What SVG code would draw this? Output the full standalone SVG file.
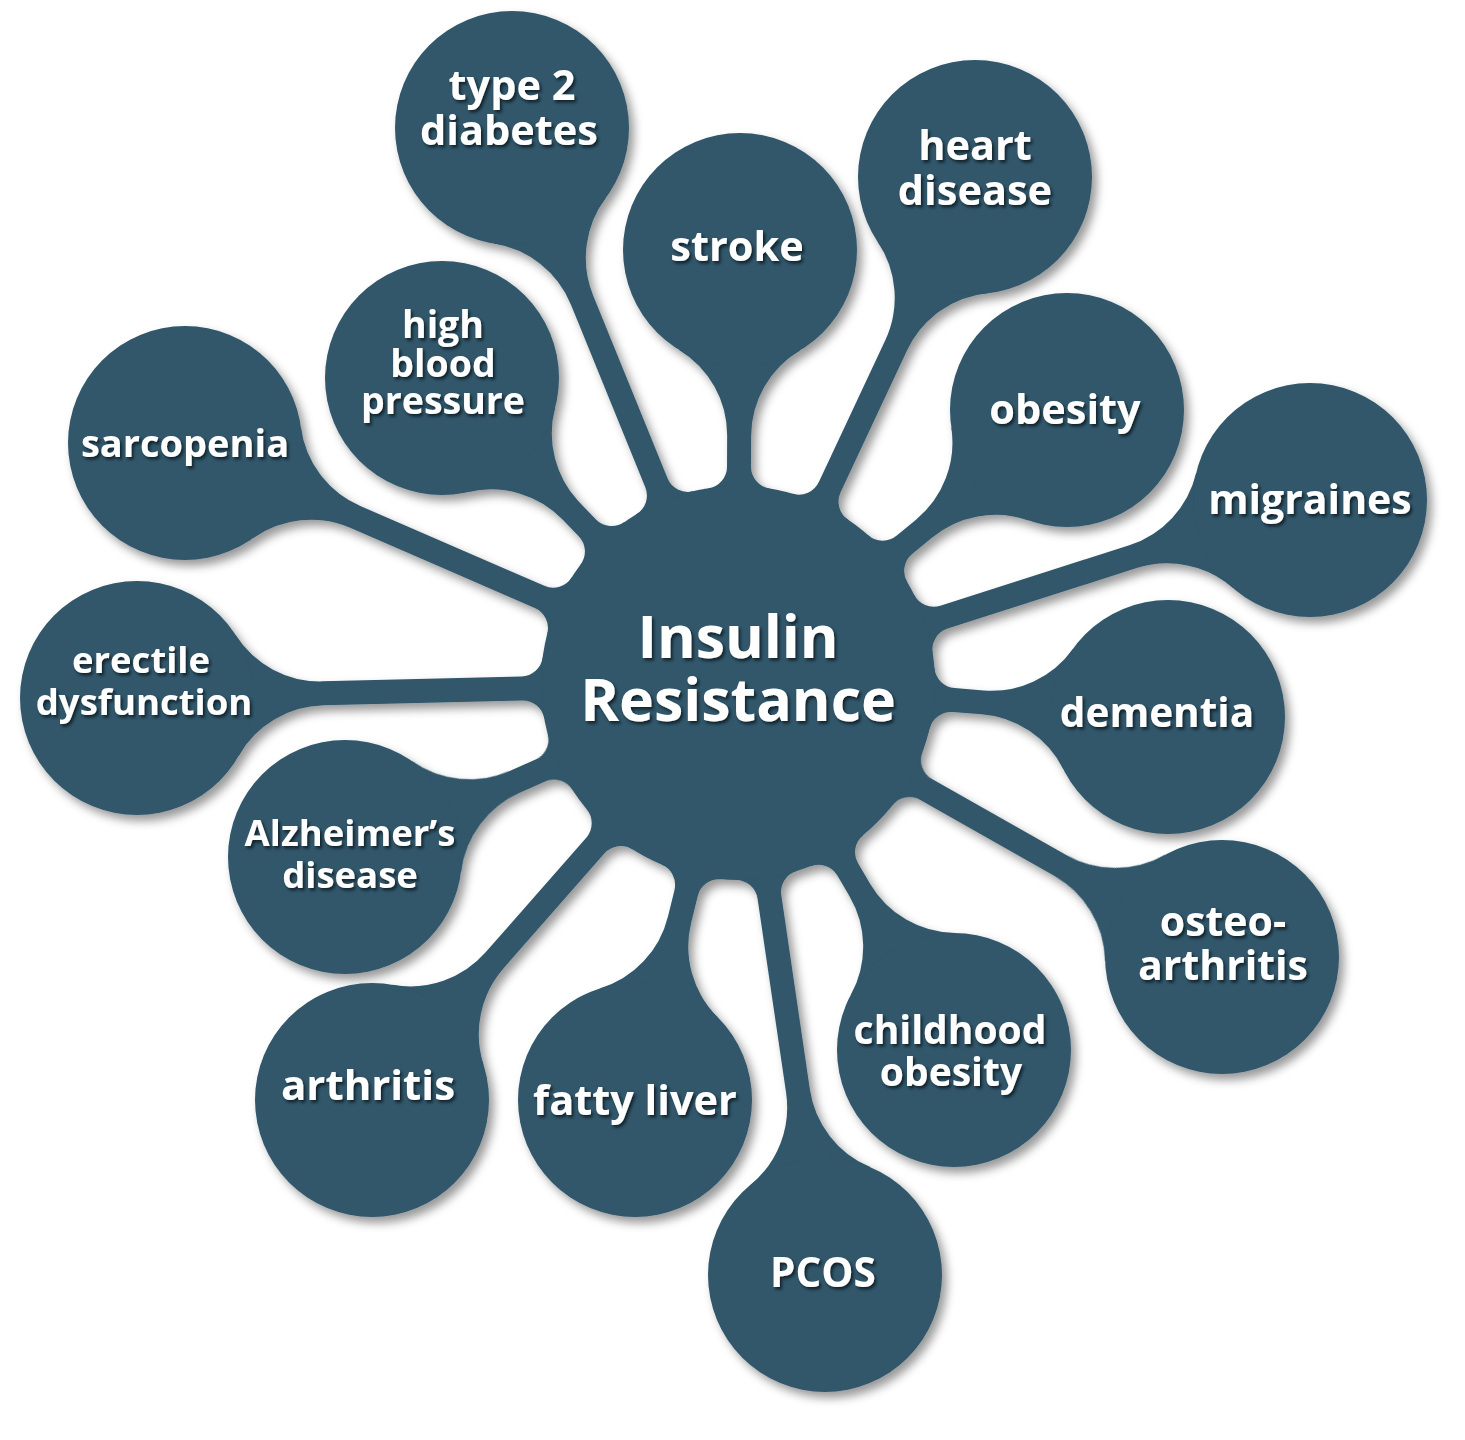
<svg xmlns="http://www.w3.org/2000/svg" width="1465" height="1440" viewBox="0 0 1465 1440">
<defs>
<filter id="drop" filterUnits="userSpaceOnUse" x="0" y="0" width="1465" height="1440">
<feDropShadow dx="5" dy="6" stdDeviation="5" flood-color="#000" flood-opacity="0.4"/>
</filter>
<filter id="ts" x="-10%" y="-20%" width="130%" height="150%">
<feDropShadow dx="2" dy="2.5" stdDeviation="1.5" flood-color="#000" flood-opacity="0.6"/>
</filter>
<style>
.blob{fill:#30566a}
.lbl{font-family:"Open Sans","Noto Sans","Liberation Sans",sans-serif;font-weight:700;fill:#fff;text-anchor:middle;filter:url(#ts)}
.title{font-family:"Open Sans","Noto Sans","Liberation Sans",sans-serif;font-weight:700;fill:#fff;text-anchor:middle;filter:url(#ts)}
</style>
</defs>
<rect width="1465" height="1440" fill="#fff"/>
<g filter="url(#drop)">
<g id="connectors" class="blob">
<path transform="translate(512 128) rotate(67.85)" d="M100.2,-60.4 A100,100 0 0 0 185.9,-12 L383.0,-12 A22,22 0 0 0 404.7,-30.6 L599.3,0 L404.7,30.6 A22,22 0 0 0 383.0,12 L185.9,12 A100,100 0 0 0 100.2,60.4 L0,0 Z"/>
<path transform="translate(740 250) rotate(90.26)" d="M100.2,-60.4 A100,100 0 0 0 185.9,-12 L216.7,-12 A22,22 0 0 0 238.4,-30.6 L433,0 L238.4,30.6 A22,22 0 0 0 216.7,12 L185.9,12 A100,100 0 0 0 100.2,60.4 L0,0 Z"/>
<path transform="translate(975 177) rotate(115.1)" d="M100.2,-60.4 A100,100 0 0 0 185.9,-12 L342.5,-12 A22,22 0 0 0 364.2,-30.6 L558.8,0 L364.2,30.6 A22,22 0 0 0 342.5,12 L185.9,12 A100,100 0 0 0 100.2,60.4 L0,0 Z"/>
<path transform="translate(442 378) rotate(45.86)" d="M100.2,-60.4 A100,100 0 0 0 185.9,-12 L208.7,-12 A22,22 0 0 0 230.4,-30.6 L425,0 L230.4,30.6 A22,22 0 0 0 208.7,12 L185.9,12 A100,100 0 0 0 100.2,60.4 L0,0 Z"/>
<path transform="translate(1067 410) rotate(140.32)" d="M100.2,-60.4 A100,100 0 0 0 185.9,-12 L211.2,-12 A22,22 0 0 0 232.9,-30.6 L427.5,0 L232.9,30.6 A22,22 0 0 0 211.2,12 L185.9,12 A100,100 0 0 0 100.2,60.4 L0,0 Z"/>
<path transform="translate(185 443) rotate(23.46)" d="M100.2,-60.4 A100,100 0 0 0 185.9,-12 L386.5,-12 A22,22 0 0 0 408.2,-30.6 L602.8,0 L408.2,30.6 A22,22 0 0 0 386.5,12 L185.9,12 A100,100 0 0 0 100.2,60.4 L0,0 Z"/>
<path transform="translate(1310 500) rotate(162.26)" d="M100.2,-60.4 A100,100 0 0 0 185.9,-12 L384.3,-12 A22,22 0 0 0 406.0,-30.6 L600.6,0 L406.0,30.6 A22,22 0 0 0 384.3,12 L185.9,12 A100,100 0 0 0 100.2,60.4 L0,0 Z"/>
<path transform="translate(137 698) rotate(-1.43)" d="M100.2,-60.4 A100,100 0 0 0 185.9,-12 L384.9,-12 A22,22 0 0 0 406.6,-30.6 L601.2,0 L406.6,30.6 A22,22 0 0 0 384.9,12 L185.9,12 A100,100 0 0 0 100.2,60.4 L0,0 Z"/>
<path transform="translate(1168 717) rotate(-175.48)" d="M100.2,-60.4 A100,100 0 0 0 185.9,-12 L215.0,-12 A22,22 0 0 0 236.7,-30.6 L431.3,0 L236.7,30.6 A22,22 0 0 0 215.0,12 L185.9,12 A100,100 0 0 0 100.2,60.4 L0,0 Z"/>
<path transform="translate(345 857) rotate(-23.88)" d="M100.2,-60.4 A100,100 0 0 0 185.9,-12 L213.5,-12 A22,22 0 0 0 235.2,-30.6 L429.8,0 L235.2,30.6 A22,22 0 0 0 213.5,12 L185.9,12 A100,100 0 0 0 100.2,60.4 L0,0 Z"/>
<path transform="translate(1222 957) rotate(-150.48)" d="M100.2,-60.4 A100,100 0 0 0 185.9,-12 L339.9,-12 A22,22 0 0 0 361.6,-30.6 L556.2,0 L361.6,30.6 A22,22 0 0 0 339.9,12 L185.9,12 A100,100 0 0 0 100.2,60.4 L0,0 Z"/>
<path transform="translate(372 1100) rotate(-48.73)" d="M100.2,-60.4 A100,100 0 0 0 185.9,-12 L338.5,-12 A22,22 0 0 0 360.2,-30.6 L554.8,0 L360.2,30.6 A22,22 0 0 0 338.5,12 L185.9,12 A100,100 0 0 0 100.2,60.4 L0,0 Z"/>
<path transform="translate(635 1100) rotate(-76.13)" d="M100.2,-60.4 A100,100 0 0 0 185.9,-12 L213.2,-12 A22,22 0 0 0 234.9,-30.6 L429.5,0 L234.9,30.6 A22,22 0 0 0 213.2,12 L185.9,12 A100,100 0 0 0 100.2,60.4 L0,0 Z"/>
<path transform="translate(954 1050) rotate(-120.48)" d="M100.2,-60.4 A100,100 0 0 0 185.9,-12 L209.5,-12 A22,22 0 0 0 231.2,-30.6 L425.8,0 L231.2,30.6 A22,22 0 0 0 209.5,12 L185.9,12 A100,100 0 0 0 100.2,60.4 L0,0 Z"/>
<path transform="translate(825 1275) rotate(-98.36)" d="M100.2,-60.4 A100,100 0 0 0 185.9,-12 L382.1,-12 A22,22 0 0 0 403.8,-30.6 L598.4,0 L403.8,30.6 A22,22 0 0 0 382.1,12 L185.9,12 A100,100 0 0 0 100.2,60.4 L0,0 Z"/>
</g>
<g id="node-insulin-resistance"><circle class="blob" cx="738" cy="683" r="197"/><text class="title" x="738" y="658" font-size="59"><tspan x="738">Insulin</tspan><tspan x="738" dy="63">Resistance</tspan></text></g>
<g id="node-type2-diabetes"><circle class="blob" cx="512" cy="128" r="117"/><text class="lbl" x="511" y="100" font-size="41.5"><tspan x="512">type 2</tspan><tspan x="509" dy="45">diabetes</tspan></text></g>
<g id="node-stroke"><circle class="blob" cx="740" cy="250" r="117"/><text class="lbl" x="737" y="261" font-size="41.5">stroke</text></g>
<g id="node-heart-disease"><circle class="blob" cx="975" cy="177" r="117"/><text class="lbl" x="975" y="160" font-size="41.5"><tspan x="975">heart</tspan><tspan x="975" dy="45">disease</tspan></text></g>
<g id="node-high-blood-pressure"><circle class="blob" cx="442" cy="378" r="117"/><text class="lbl" x="443" y="338" font-size="37.5"><tspan x="443">high</tspan><tspan x="443" dy="39">blood</tspan><tspan x="443" dy="37">pressure</tspan></text></g>
<g id="node-obesity"><circle class="blob" cx="1067" cy="410" r="117"/><text class="lbl" x="1065" y="424" font-size="41.5">obesity</text></g>
<g id="node-sarcopenia"><circle class="blob" cx="185" cy="443" r="117"/><text class="lbl" x="185" y="457" font-size="38">sarcopenia</text></g>
<g id="node-migraines"><circle class="blob" cx="1310" cy="500" r="117"/><text class="lbl" x="1310" y="514" font-size="41">migraines</text></g>
<g id="node-erectile-dysfunction"><circle class="blob" cx="137" cy="698" r="117"/><text class="lbl" x="142" y="673" font-size="36.5"><tspan x="141">erectile</tspan><tspan x="144" dy="42">dysfunction</tspan></text></g>
<g id="node-dementia"><circle class="blob" cx="1168" cy="717" r="117"/><text class="lbl" x="1157" y="727" font-size="40.5">dementia</text></g>
<g id="node-alzheimers-disease"><circle class="blob" cx="345" cy="857" r="117"/><text class="lbl" x="350" y="846" font-size="36.5"><tspan x="350">Alzheimer’s</tspan><tspan x="350" dy="42">disease</tspan></text></g>
<g id="node-osteoarthritis"><circle class="blob" cx="1222" cy="957" r="117"/><text class="lbl" x="1223" y="936" font-size="41"><tspan x="1223">osteo-</tspan><tspan x="1223" dy="44">arthritis</tspan></text></g>
<g id="node-arthritis"><circle class="blob" cx="372" cy="1100" r="117"/><text class="lbl" x="368" y="1100" font-size="42">arthritis</text></g>
<g id="node-fatty-liver"><circle class="blob" cx="635" cy="1100" r="117"/><text class="lbl" x="635" y="1115" font-size="41.5">fatty liver</text></g>
<g id="node-childhood-obesity"><circle class="blob" cx="954" cy="1050" r="117"/><text class="lbl" x="950" y="1044" font-size="39"><tspan x="950">childhood</tspan><tspan x="951" dy="42">obesity</tspan></text></g>
<g id="node-pcos"><circle class="blob" cx="825" cy="1275" r="117"/><text class="lbl" x="823" y="1287" font-size="40.5">PCOS</text></g>
</g>
</svg>
